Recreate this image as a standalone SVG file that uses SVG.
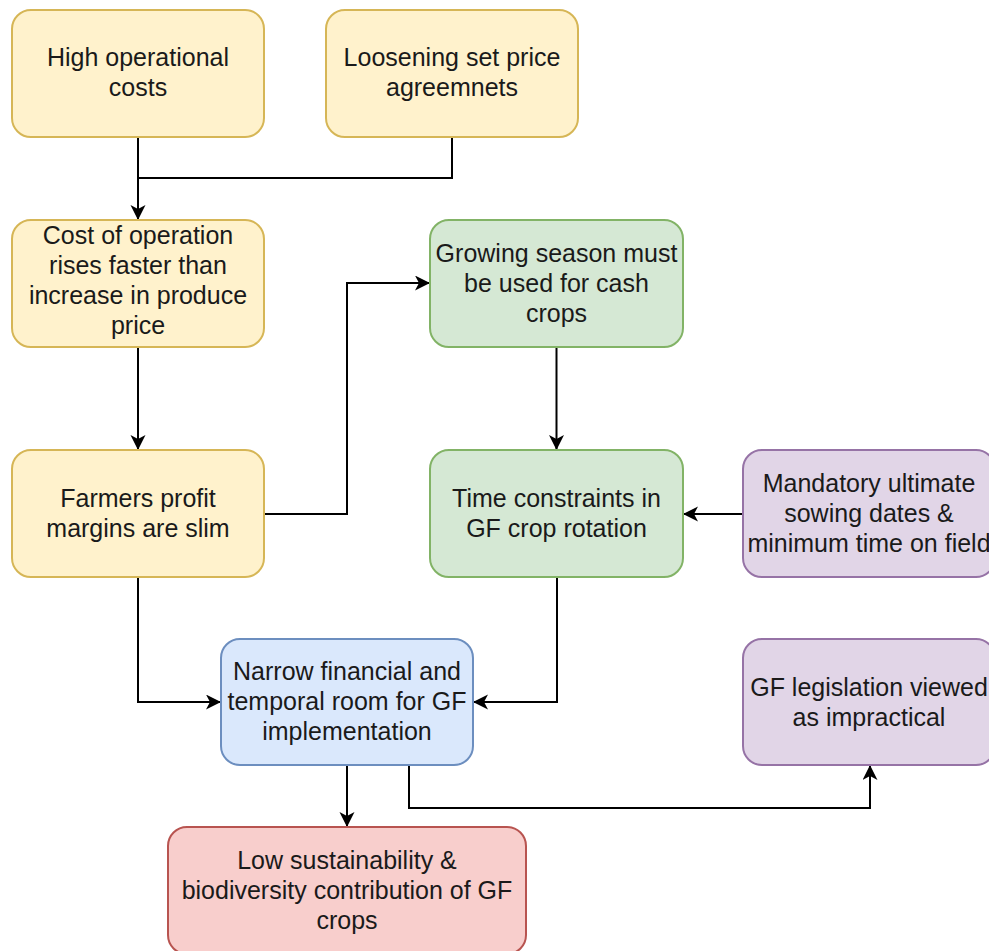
<svg xmlns="http://www.w3.org/2000/svg" width="989" height="951" viewBox="0 0 989 951">
<style>
.n rect{stroke-width:2}
.y rect{fill:#fff2cc;stroke:#d6b656}
.g rect{fill:#d5e8d4;stroke:#82b366}
.p rect{fill:#e1d5e7;stroke:#9673a6}
.b rect{fill:#dae8fc;stroke:#6c8ebf}
.r rect{fill:#f8cecc;stroke:#b85450}
text{font-family:"Liberation Sans",Helvetica,Arial,sans-serif;font-size:25px;fill:#1a1a1a;text-anchor:middle}
#connectors path{fill:none;stroke:#000;stroke-width:2}
</style>
<defs>
<marker id="arr" markerUnits="userSpaceOnUse" markerWidth="16" markerHeight="16" refX="15" refY="7.5" orient="auto">
<path d="M0,0 L15,7.5 L0,15 L4,7.5 z" fill="#000"/>
</marker>
</defs>
<rect width="989" height="951" fill="#fff"/>
<g id="connectors">
<path d="M138,137 V220" marker-end="url(#arr)"/>
<path d="M452,137 V178 H138"/>
<path d="M138,347 V450" marker-end="url(#arr)"/>
<path d="M264,514 H347 V283 H430" marker-end="url(#arr)"/>
<path d="M556.5,347 V450" marker-end="url(#arr)"/>
<path d="M743,514 H683" marker-end="url(#arr)"/>
<path d="M138,577 V702 H221" marker-end="url(#arr)"/>
<path d="M557,577 V702 H473" marker-end="url(#arr)"/>
<path d="M347,765 V827" marker-end="url(#arr)"/>
<path d="M409,765 V808 H870 V765" marker-end="url(#arr)"/>
</g>
<g id="n1" class="n y"><rect x="12" y="10" width="252" height="127" rx="19"/>
<text x="138" y="66">High operational</text><text x="138" y="96">costs</text></g>
<g id="n2" class="n y"><rect x="326" y="10" width="252" height="127" rx="19"/>
<text x="452" y="66">Loosening set price</text><text x="452" y="96">agreemnets</text></g>
<g id="n3" class="n y"><rect x="12" y="220" width="252" height="127" rx="19"/>
<text x="138" y="244">Cost of operation</text><text x="138" y="274">rises faster than</text><text x="138" y="304">increase in produce</text><text x="138" y="334">price</text></g>
<g id="n4" class="n g"><rect x="430" y="220" width="253" height="127" rx="19"/>
<text x="556.5" y="261.5">Growing season must</text><text x="556.5" y="291.5">be used for cash</text><text x="556.5" y="321.5">crops</text></g>
<g id="n5" class="n y"><rect x="12" y="450" width="252" height="127" rx="19"/>
<text x="138" y="506.5">Farmers profit</text><text x="138" y="536.5">margins are slim</text></g>
<g id="n6" class="n g"><rect x="430" y="450" width="253" height="127" rx="19"/>
<text x="556.5" y="506.5">Time constraints in</text><text x="556.5" y="536.5">GF crop rotation</text></g>
<g id="n7" class="n p"><rect x="743" y="450" width="252" height="127" rx="19"/>
<text x="869" y="491.5">Mandatory ultimate</text><text x="869" y="521.5">sowing dates &amp;</text><text x="869" y="551.5">minimum time on field</text></g>
<g id="n8" class="n b"><rect x="221" y="639" width="252" height="126" rx="19"/>
<text x="347" y="680">Narrow financial and</text><text x="347" y="710">temporal room for GF</text><text x="347" y="740">implementation</text></g>
<g id="n9" class="n p"><rect x="743" y="639" width="252" height="126" rx="19"/>
<text x="869" y="695.5">GF legislation viewed</text><text x="869" y="725.5">as impractical</text></g>
<g id="n10" class="n r"><rect x="168" y="827" width="358" height="127" rx="19"/>
<text x="347" y="868.5">Low sustainability &amp;</text><text x="347" y="898.5">biodiversity contribution of GF</text><text x="347" y="928.5">crops</text></g>
</svg>
